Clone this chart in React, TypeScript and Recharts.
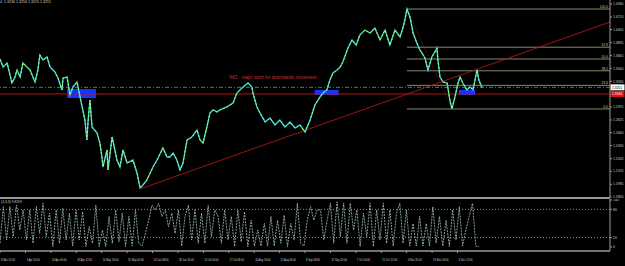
import { LineChart, Line, XAxis, YAxis, ReferenceLine, ReferenceArea, ReferenceDot } from 'recharts';

// price path (bar index, close-ish price)
const PRICE_T = [
  0, 1.2, 2.8, 4.7, 5.9, 6.7, 7.9, 9.0, 10.6, 11.8, 13.8, 14.9, 15.7, 16.9, 18.5, 19.7, 21.6, 22.8, 24.4, 24.8,
  26.4, 27.5, 28.7, 30.3, 31.5, 33.4, 34.2, 34.6, 35.4, 36.2, 38.2, 39.3, 40.1, 40.5, 42.1, 42.5, 44.1, 45.2, 46.0, 47.2,
  48.4, 50.0, 52.3, 53.9, 55.1, 56.3, 57.8, 60.2, 61.8, 64.1, 65.7, 66.9, 68.1, 69.6, 70.8, 72.0, 73.6, 75.5, 77.5, 78.7,
  79.9, 81.4, 82.6, 83.8, 85.4, 86.5, 89.3, 91.7, 93.2, 94.4, 95.6, 97.6, 99.1, 99.5, 101.1, 102.3, 104.3, 106.2, 108.2, 110.1,
  112.1, 114.1, 116.1, 118.0, 120.0, 122.0, 123.9, 125.9, 127.1, 128.6, 129.8, 131.0, 132.6, 133.8, 134.9, 136.9, 138.5, 140.1, 141.6, 143.6,
  145.6, 147.5, 149.5, 151.5, 153.4, 155.4, 157.4, 158.5, 159.3, 160.1, 161.3, 162.1, 162.5, 164.0, 165.2, 166.0, 167.2, 168.4, 169.9, 171.1,
  171.9, 172.3, 173.1, 174.3, 175.9, 177.0, 177.8, 179.0, 180.2, 181.0, 182.1, 183.7, 184.9, 186.1, 187.7, 188.4, 189.6,
];
const PRICE = [
  1.3621, 1.3517, 1.3569, 1.3308, 1.3386, 1.3478, 1.3386, 1.3569, 1.3517, 1.3478, 1.3321, 1.3478, 1.3674, 1.3608, 1.3648, 1.3517, 1.3452, 1.3373, 1.3217, 1.3373,
  1.3386, 1.3151, 1.3256, 1.3321, 1.3125, 1.2825, 1.2564, 1.2786, 1.3086, 1.2733, 1.2655, 1.2524, 1.2342, 1.2211, 1.2433, 1.2172, 1.2603, 1.2433, 1.2302, 1.2211,
  1.2433, 1.2263, 1.2302, 1.2133, 1.1937, 1.1976, 1.2041, 1.2211, 1.2302, 1.2459, 1.2342, 1.2342, 1.2394, 1.2302, 1.2172, 1.2263, 1.2564, 1.2603, 1.2694, 1.2564,
  1.2524, 1.2733, 1.2916, 1.2956, 1.2929, 1.2956, 1.2995, 1.3047, 1.3177, 1.3217, 1.3256, 1.3308, 1.3256, 1.3177, 1.2995, 1.2916, 1.2799, 1.2851, 1.2760, 1.2825,
  1.2733, 1.2799, 1.2720, 1.2760, 1.2668, 1.2825, 1.3021, 1.3125, 1.3177, 1.3217, 1.3347, 1.3439, 1.3478, 1.3517, 1.3582, 1.3765, 1.3870, 1.3804, 1.3935, 1.4000,
  1.3961, 1.4026, 1.3870, 1.4000, 1.3804, 1.4000, 1.3909, 1.4026, 1.4131, 1.4274, 1.4170, 1.4039, 1.3961, 1.3830, 1.3739, 1.3700, 1.3635, 1.3478, 1.3648, 1.3713,
  1.3765, 1.3608, 1.3386, 1.3321, 1.3308, 1.3086, 1.2969, 1.3125, 1.3308, 1.3386, 1.3308, 1.3217, 1.3256, 1.3217, 1.3478, 1.3347, 1.3251,
];

// stochastic-like oscillator, one reading every OSC_STEP bars
const OSC_STEP = 1.3;
const OSC = [
  8, 86, 15, 86, 22, 89, 36, 79, 15, 79, 8, 86, 29, 93, 22, 72, 1, 79, 8, 82,
  15, 72, 2, 79, 15, 75, 1, 43, 8, 89, 1, 36, 1, 65, 8, 79, 11, 72, 1, 65,
  2, 79, 8, 2, 29, 57, 89, 79, 93, 65, 79, 43, 72, 29, 79, 2, 65, 89, 15, 79,
  8, 72, 8, 89, 22, 79, 65, 8, 79, 15, 65, 1, 79, 11, 75, 1, 57, 2, 36, 2,
  50, 2, 65, 2, 57, 8, 68, 1, 50, 15, 93, 8, 2, 57, 86, 57, 79,
  79, 15, 57, 93, 8, 96, 22, 93, 8, 93, 36, 79, 1, 72, 22, 93, 1, 79, 15, 93,
  8, 79, 2, 72, 93, 8, 79, 2, 50, 2, 65, 2, 50, 2, 86, 8, 65, 2, 57, 1,
  79, 15, 86, 2, 36, 65, 93, 2, 1,
];

const DATE_LABELS = [
  '8 Mar 12:00', '1 Apr 20:00', '16 Apr 04:00', '30 Apr 12:00', '14 May 20:00', '31 May 00:00', '14 Jun 08:00',
  '28 Jun 16:00', '13 Jul 00:00', '27 Jul 08:00', '10 Aug 16:00', '25 Aug 00:00', '8 Sep 08:00', '22 Sep 20:00',
  '7 Oct 04:00', '21 Oct 12:00', '4 Nov 20:00', '19 Nov 04:00', '3 Dec 12:00',
];
const TIME_TICKS = DATE_LABELS.map((_, i) => i * 10);

const PRICE_TICKS = [1.4340, 1.4170, 1.4005, 1.3835, 1.3665, 1.3500, 1.3330, 1.2995, 1.2825, 1.2660, 1.2490, 1.2320, 1.2155, 1.1985, 1.1820];
const OSC_TICKS = [0, 20, 80, 100];

const FIB_LEVELS = [0, 23.6, 38.2, 50, 61.8, 100];
const FIB_HIGH = { t: 160.1, p: 1.4274 };
const FIB_LOW = { t: 177.8, p: 1.2969 };

const TREND_START = { t: 55.1, p: 1.1924 };
const TREND_END = { t: 240, p: 1.4105 };

const BID = 1.3251;
const STOP = 1.3165;

const ZONES = [
  { t1: 26.4, t2: 37.8, p1: 1.3112, p2: 1.3230 },
  { t1: 123.8, t2: 133.2, p1: 1.3151, p2: 1.3217 },
  { t1: 180.6, t2: 186.9, p1: 1.3151, p2: 1.3217 },
];

const AXIS = '#9a9a9a';
const TEXT = '#cfcfcf';
const PRICE_DOMAIN = [1.1819, 1.4392];

const priceData = PRICE_T.map((t, i) => ({ t, p: PRICE[i] }));
const oscData = OSC.map((v, i) => ({ t: i * OSC_STEP, v }));

const FibLabel = (props: any) => {
  const { viewBox, text } = props;
  if (!viewBox) return null;
  return (
    <text x={viewBox.x + viewBox.width - 2} y={viewBox.y - 1.2} fontSize={3.4} fill="#c8c860" textAnchor="end">
      {text}
    </text>
  );
};

const PriceTag = (props: any) => {
  const { viewBox, text, bg, fg } = props;
  if (!viewBox) return null;
  const x = viewBox.x + viewBox.width;
  return (
    <g>
      <rect x={x + 0.5} y={viewBox.y - 3} width={14} height={6} fill={bg} />
      <text x={x + 2} y={viewBox.y + 1.3} fontSize={3.4} fill={fg}>{text}</text>
    </g>
  );
};

const DateTick = (props: any) => {
  const { x, y, payload } = props;
  return (
    <text x={x + 1} y={y + 6} fontSize={2.6} fill={TEXT} textAnchor="start">
      {DATE_LABELS[Math.round(payload.value / 10)]}
    </text>
  );
};

const mainMargin = { top: 0, right: 0, left: 0, bottom: 3 };

export default function App() {
  const fibRange = FIB_HIGH.p - FIB_LOW.p;
  return (
    <div style={{ position: 'fixed', left: 0, top: 0, width: 625, height: 266, background: '#000', overflow: 'hidden', fontFamily: 'Liberation Sans, Arial, sans-serif' }}>
      {/* back layer: zones, fibo, trend and level lines */}
      <div style={{ position: 'absolute', left: 0, top: 0 }}>
        <LineChart width={625} height={200} data={priceData} margin={mainMargin}>
          <XAxis type="number" dataKey="t" domain={[0, 240]} hide />
          <YAxis orientation="right" domain={PRICE_DOMAIN} width={15} tick={false} axisLine={false} tickLine={false} allowDataOverflow />
          {ZONES.map((z, i) => (
            <ReferenceArea key={`z-${i}`} x1={z.t1} x2={z.t2} y1={z.p1} y2={z.p2} fill="#1535ff" fillOpacity={1} stroke="none" />
          ))}
          {FIB_LEVELS.map((lv) => {
            const p = FIB_LOW.p + (lv / 100) * fibRange;
            return (
              <ReferenceLine
                key={`fib-${lv}`}
                segment={[{ x: FIB_HIGH.t, y: p }, { x: 240, y: p }]}
                stroke="#a9a98a"
                strokeWidth={0.8}
                label={<FibLabel text={lv.toFixed(1)} />}
              />
            );
          })}
          <ReferenceLine y={BID} stroke="#2f8f2f" strokeDasharray="4 2 1 2" label={<PriceTag text={BID.toFixed(4)} bg="#ffffff" fg="#000" />} />
          <ReferenceLine y={STOP} stroke="#b81414" strokeWidth={1} label={<PriceTag text={STOP.toFixed(4)} bg="#e01010" fg="#fff" />} />
          <ReferenceLine
            segment={[{ x: TREND_START.t, y: TREND_START.p }, { x: TREND_END.t, y: TREND_END.p }]}
            stroke="#a81818"
            strokeWidth={0.9}
          />
          <ReferenceLine
            segment={[{ x: FIB_HIGH.t, y: FIB_HIGH.p }, { x: FIB_LOW.t, y: FIB_LOW.p }]}
            stroke="#a02020"
            strokeDasharray="1 1.5"
            strokeWidth={0.8}
          />
          <ReferenceDot
            x={90.1}
            y={1.3386}
            r={0}
            stroke="none"
            label={{ value: 'IMO - major point for downwards movement', position: 'right', offset: 0, fill: '#c83030', fontSize: 4.5 }}
          />
        </LineChart>
      </div>
      {/* front layer: price and axis */}
      <div style={{ position: 'absolute', left: 0, top: 0 }}>
        <LineChart width={625} height={200} data={priceData} margin={mainMargin}>
          <XAxis type="number" dataKey="t" domain={[0, 240]} hide />
          <YAxis
            orientation="right"
            domain={PRICE_DOMAIN}
            ticks={PRICE_TICKS}
            interval={0}
            width={15}
            tickSize={2}
            tickMargin={1}
            tick={{ fontSize: 3.4, fill: TEXT }}
            tickFormatter={(v: number) => v.toFixed(4)}
            axisLine={{ stroke: AXIS }}
            tickLine={{ stroke: AXIS }}
            allowDataOverflow
          />
          <Line type="linear" dataKey="p" stroke="#30c4d8" strokeWidth={1.4} dot={false} isAnimationActive={false} />
          <Line type="linear" dataKey="p" stroke="#9cff6a" strokeWidth={1} strokeDasharray="2.5 1.5" dot={false} isAnimationActive={false} />
        </LineChart>
      </div>
      <div style={{ position: 'absolute', left: 0, top: 0, fontSize: 3.6, lineHeight: '5px', color: TEXT, whiteSpace: 'pre' }}>
        {'4  1.3236 1.3256 1.3215 1.3251'}
      </div>
      <div style={{ position: 'absolute', left: 0, top: 197, width: 610, height: 1.5, background: AXIS }} />
      <div style={{ position: 'absolute', left: 0, top: 199 }}>
        <LineChart width={625} height={67} data={oscData} margin={{ top: 0, right: 0, left: 0, bottom: 0 }}>
          <XAxis
            type="number"
            dataKey="t"
            domain={[0, 240]}
            ticks={TIME_TICKS}
            interval={0}
            height={15}
            tickSize={2}
            tick={DateTick}
            axisLine={{ stroke: AXIS, strokeWidth: 1.3 }}
            tickLine={{ stroke: AXIS }}
          />
          <YAxis
            orientation="right"
            domain={[-8.5, 102.1]}
            ticks={OSC_TICKS}
            interval={0}
            width={15}
            tickSize={2}
            tickMargin={1}
            tick={{ fontSize: 3.4, fill: TEXT }}
            axisLine={{ stroke: AXIS }}
            tickLine={{ stroke: AXIS }}
            allowDataOverflow
          />
          <ReferenceLine y={80} stroke="#8a8a8a" strokeDasharray="1 2" />
          <ReferenceLine y={20} stroke="#8a8a8a" strokeDasharray="1 2" />
          <Line type="linear" dataKey="v" stroke="#a4c8c0" strokeWidth={0.8} strokeDasharray="2 1" dot={false} isAnimationActive={false} />
        </LineChart>
      </div>
      <div style={{ position: 'absolute', left: 1, top: 200, fontSize: 3.4, lineHeight: '4px', color: TEXT }}>
        (3,3,3) 9.8259
      </div>
    </div>
  );
}
